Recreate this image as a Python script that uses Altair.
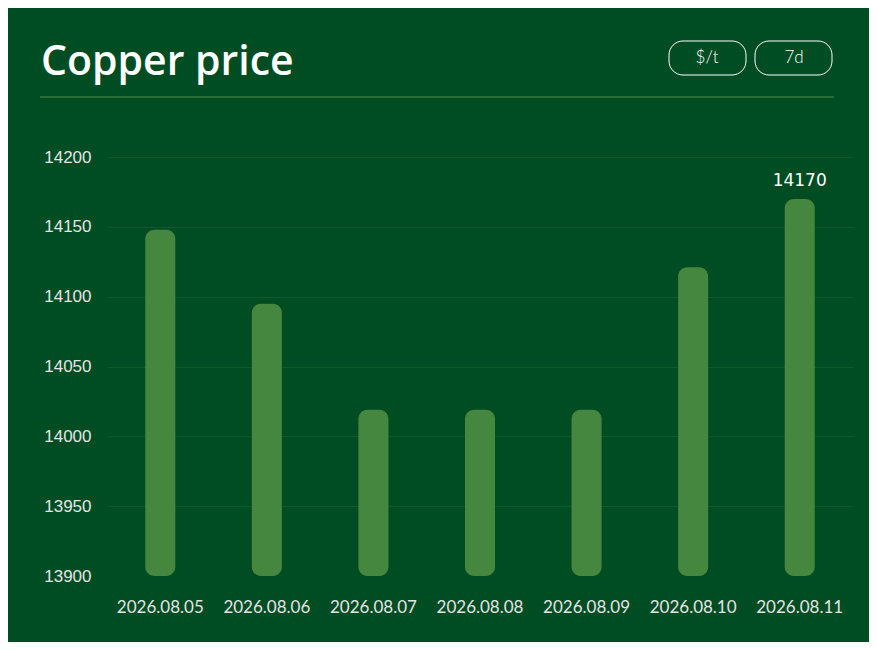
import altair as alt
import pandas as pd

# ---- data ----
dates = ["2026.08.05", "2026.08.06", "2026.08.07", "2026.08.08",
         "2026.08.09", "2026.08.10", "2026.08.11"]
prices = [14148, 14095, 14019, 14019, 14019, 14121, 14170]
y_ticks = [13900, 13950, 14000, 14050, 14100, 14150, 14200]
title_text = "Copper price"
unit_label = "$/t"
range_label = "7d"

BG = "#004d23"
BAR = "#468740"
GRID = "#0b5a2c"
LINE = "#4c8c46"
TXT = "#e4e4e4"

df = pd.DataFrame({"date": dates, "price": prices})

x_enc = alt.X(
    "date:N", sort=dates, title=None,
    scale=alt.Scale(paddingInner=0, paddingOuter=0),
    axis=alt.Axis(labelAngle=0, labelFont="Lato", labelFontSize=17,
                  labelColor=TXT, labelPadding=23, ticks=False,
                  domain=False, grid=False),
)
y_enc = alt.Y(
    "price:Q", title=None,
    scale=alt.Scale(domain=[13900, 14200], zero=False, nice=False),
    axis=alt.Axis(values=y_ticks, format="d", labelFont="Liberation Sans",
                  labelFontSize=17, labelColor=TXT, labelPadding=16,
                  ticks=False, domain=False,
                  gridColor=alt.condition("datum.value <= 13900",
                                          alt.value("transparent"),
                                          alt.value(GRID)),
                  gridWidth=1),
)

bars = alt.Chart(df).mark_bar(size=30, color=BAR, cornerRadius=9).encode(
    x=x_enc, y=y_enc, y2=alt.datum(13900)
)

peak = alt.Chart(df).transform_joinaggregate(
    maxp="max(price)"
).transform_filter("datum.price == datum.maxp").mark_text(
    font="DejaVu Sans", fontSize=17, color="white", baseline="alphabetic", dy=-13
).encode(x=alt.X("date:N", sort=dates), y="price:Q",
         text=alt.Text("price:Q", format="d"))

one = alt.Data(values=[{"k": 1}])

title = alt.Chart(one).mark_text(
    text=title_text, font="Open Sans", fontWeight=600, fontSize=41,
    color="white", align="left", baseline="alphabetic"
).encode(x=alt.value(-66), y=alt.value(-82))

divider = alt.Chart(one).mark_rule(color=LINE, strokeWidth=1).encode(
    x=alt.value(-67), x2=alt.value(727), y=alt.value(-60)
)

pill1 = alt.Chart(one).mark_rect(
    fill=BG, stroke="white", strokeWidth=1, cornerRadius=14
).encode(x=alt.value(562), x2=alt.value(639), y=alt.value(-116), y2=alt.value(-82))
pill2 = alt.Chart(one).mark_rect(
    fill=BG, stroke="white", strokeWidth=1, cornerRadius=14
).encode(x=alt.value(648), x2=alt.value(725), y=alt.value(-116), y2=alt.value(-82))

pill1_t = alt.Chart(one).mark_text(
    text=unit_label, font="Lato", fontWeight=300, fontSize=17, color="white",
    align="center", baseline="middle"
).encode(x=alt.value(600), y=alt.value(-99))
pill2_t = alt.Chart(one).mark_text(
    text=range_label, font="Lato", fontWeight=300, fontSize=17, color="white",
    align="center", baseline="middle"
).encode(x=alt.value(687), y=alt.value(-99))

page_css = "html, body { background-color: %s !important; }" % BG

chart = alt.layer(
    bars, peak, title, divider, pill1, pill2, pill1_t, pill2_t
).properties(
    width=746, height=419,
    padding={"left": 99, "top": 149, "right": 16, "bottom": 66},
    autosize=alt.AutoSizeParams(type="none"),
    background=BG,
    usermeta={"embedOptions": {"defaultStyle": page_css}},
).configure_view(strokeWidth=0)

chart.save("out.html", embed_options={"renderer": "svg", "actions": False})
